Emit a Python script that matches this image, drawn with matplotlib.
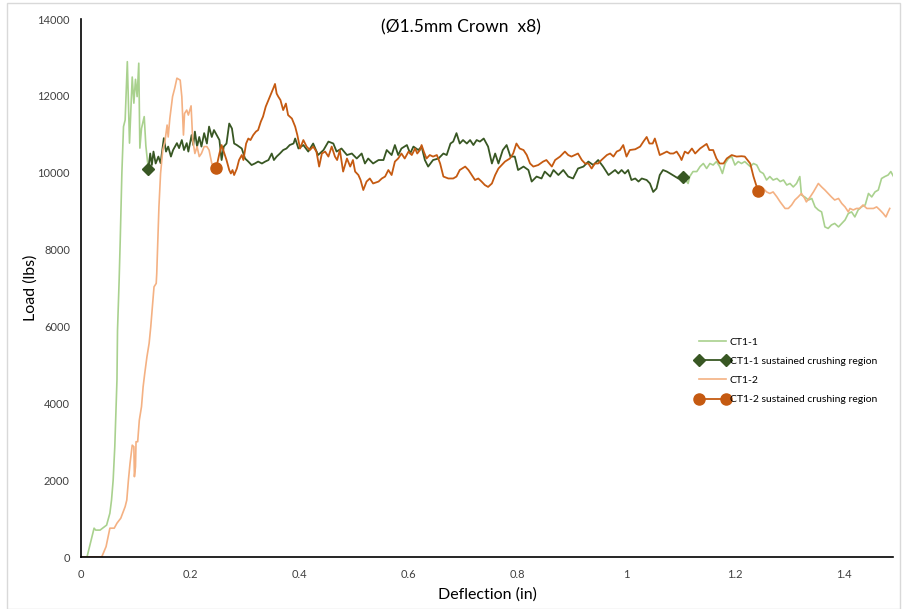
import numpy as np
import matplotlib
matplotlib.use('Agg')
import matplotlib.pyplot as plt
from matplotlib.patches import Rectangle
from matplotlib.ticker import FuncFormatter

plt.rcParams['font.family'] = ['Lato', 'DejaVu Sans']

# CT1-1 - initial loading up to the start of crushing
ct1_rise_x = [0, 0.011, 0.024, 0.027, 0.035, 0.047, 0.053, 0.056, 0.059, 0.062, 0.064, 0.066, 0.067,
              0.070, 0.072, 0.075, 0.078, 0.081, 0.085, 0.089, 0.094, 0.097, 0.100, 0.103, 0.106,
              0.108, 0.111, 0.116, 0.119, 0.1235]
ct1_rise_y = [0, 0, 750, 700, 700, 830, 1140, 1480, 2000, 2870, 3740, 4610, 5900,
              7210, 8250, 9990, 11200, 11370, 12890, 10770, 12490, 11810, 12430, 11980, 12850,
              10640, 11150, 11460, 10700, 10100]

# CT1-1 sustained crushing region
ct1_sus_x = [0.1235, 0.127, 0.130, 0.133, 0.137, 0.142, 0.146, 0.152, 0.156, 0.160, 0.165, 0.169,
             0.176, 0.180, 0.185, 0.189, 0.194, 0.197, 0.203, 0.206, 0.209, 0.213, 0.217, 0.221,
             0.226, 0.231, 0.235, 0.240, 0.244, 0.249, 0.254, 0.258, 0.262, 0.267, 0.272, 0.277,
             0.281, 0.286, 0.290, 0.295, 0.301, 0.307, 0.313, 0.319, 0.325, 0.332, 0.338, 0.344,
             0.350, 0.354, 0.359, 0.365, 0.371, 0.377, 0.383, 0.390, 0.393, 0.399, 0.408, 0.417,
             0.426, 0.435, 0.445, 0.454, 0.463, 0.469, 0.478, 0.488, 0.497, 0.506, 0.515, 0.521,
             0.527, 0.536, 0.546, 0.555, 0.561, 0.570, 0.576, 0.582, 0.588, 0.598, 0.604, 0.610,
             0.619, 0.625, 0.631, 0.637, 0.646, 0.656, 0.665, 0.671, 0.678, 0.683, 0.689, 0.695,
             0.701, 0.708, 0.714, 0.720, 0.726, 0.732, 0.739, 0.747, 0.754, 0.760, 0.766, 0.774,
             0.781, 0.788, 0.796, 0.802, 0.812, 0.821, 0.827, 0.836, 0.845, 0.851, 0.861, 0.867,
             0.876, 0.885, 0.894, 0.903, 0.912, 0.922, 0.931, 0.940, 0.949, 0.958, 0.968, 0.980,
             0.986, 0.992, 0.998, 1.004, 1.010, 1.017, 1.023, 1.029, 1.038, 1.044, 1.050, 1.056,
             1.062, 1.068, 1.075, 1.081, 1.090, 1.096, 1.105]
ct1_sus_y = [10100, 10500, 10200, 10550, 10240, 10420, 10250, 10900, 10550, 10680, 10420, 10590,
             10770, 10640, 10850, 10590, 10770, 10550, 10980, 10720, 11070, 10680, 10930, 10680,
             11030, 10760, 11200, 10930, 11110, 10980, 10850, 10330, 10680, 10760, 11280, 11150,
             10760, 10720, 10680, 10630, 10370, 10290, 10200, 10240, 10290, 10240, 10290, 10330,
             10500, 10330, 10420, 10500, 10590, 10630, 10720, 10760, 10890, 10630, 10720, 10550,
             10760, 10460, 10590, 10810, 10760, 10550, 10630, 10460, 10500, 10370, 10500, 10240,
             10370, 10240, 10330, 10330, 10590, 10460, 10720, 10460, 10630, 10720, 10500, 10680,
             10590, 10680, 10330, 10160, 10330, 10370, 10500, 10460, 10760, 10810, 11030, 10760,
             10850, 10760, 10850, 10720, 10850, 10810, 10890, 10680, 10240, 10500, 10240, 10590,
             10720, 10420, 10420, 10070, 10160, 10070, 9770, 9900, 9850, 10030, 9900, 10070,
             9940, 10070, 9900, 9850, 10110, 10160, 10290, 10200, 10330, 10160, 9940, 10070,
             9980, 10070, 9980, 10070, 9810, 9850, 9770, 9850, 9810, 9720, 9500, 9590,
             9940, 10070, 10030, 9980, 9900, 9850, 9900]

# CT1-1 after the crushing region
ct1_tail_x = [1.105, 1.114, 1.117, 1.123, 1.130, 1.136, 1.142, 1.148, 1.154, 1.160, 1.166, 1.172,
              1.177, 1.182, 1.188, 1.194, 1.200, 1.206, 1.212, 1.218, 1.228, 1.234, 1.240, 1.246,
              1.252, 1.258, 1.264, 1.270, 1.277, 1.283, 1.289, 1.295, 1.301, 1.307, 1.313, 1.319,
              1.322, 1.328, 1.335, 1.341, 1.347, 1.353, 1.359, 1.365, 1.371, 1.377, 1.383, 1.390,
              1.396, 1.402, 1.408, 1.414, 1.420, 1.426, 1.432, 1.439, 1.445, 1.451, 1.457, 1.463,
              1.469, 1.475, 1.481, 1.486, 1.491]
ct1_tail_y = [9900, 9720, 9900, 10030, 10030, 10160, 10240, 10110, 10240, 10200, 10290, 10160,
              9980, 10240, 10370, 10420, 10200, 10290, 10240, 10290, 10160, 10240, 10200, 10030,
              9980, 9810, 9900, 9810, 9850, 9770, 9810, 9680, 9720, 9630, 9720, 9900,
              9420, 9370, 9290, 9330, 9110, 9030, 8980, 8590, 8550, 8640, 8680, 8590,
              8680, 8770, 8940, 8980, 8850, 9030, 9110, 9160, 9460, 9370, 9500, 9550,
              9850, 9900, 9940, 10030, 9900]

# CT1-2 - initial loading
ct2_rise_x = [0, 0.038, 0.046, 0.053, 0.061, 0.066, 0.073, 0.081, 0.084, 0.087, 0.090, 0.094,
              0.097, 0.098, 0.100, 0.101, 0.104, 0.107, 0.111, 0.114, 0.117, 0.121, 0.125, 0.128,
              0.130, 0.133, 0.134, 0.138, 0.139, 0.143, 0.146, 0.150, 0.154, 0.158, 0.160, 0.163,
              0.168, 0.172, 0.176, 0.182, 0.185, 0.188, 0.190, 0.194, 0.197, 0.202, 0.205, 0.209,
              0.213, 0.217, 0.221, 0.226, 0.231, 0.235, 0.240, 0.244, 0.248]
ct2_rise_y = [0, 0, 270, 750, 750, 880, 1010, 1310, 1480, 2000, 2440, 2910,
              2870, 2090, 2350, 3000, 3000, 3560, 3910, 4430, 4780, 5210, 5560, 5990,
              6340, 6860, 7030, 7120, 7380, 9110, 9980, 10590, 10810, 11240, 10930, 11410,
              11980, 12200, 12460, 12410, 11980, 10980, 11540, 11630, 11500, 11740, 10850, 10500,
              10680, 10420, 10500, 10680, 10680, 10590, 10240, 10160, 10110]

# CT1-2 sustained crushing region
ct2_sus_x = [0.248, 0.254, 0.258, 0.262, 0.267, 0.272, 0.275, 0.278, 0.281, 0.286, 0.290, 0.295,
             0.298, 0.303, 0.307, 0.311, 0.316, 0.321, 0.325, 0.330, 0.334, 0.339, 0.344, 0.348,
             0.353, 0.356, 0.359, 0.362, 0.366, 0.371, 0.376, 0.380, 0.387, 0.393, 0.397, 0.402,
             0.408, 0.414, 0.420, 0.426, 0.432, 0.437, 0.442, 0.448, 0.454, 0.460, 0.466, 0.470,
             0.475, 0.481, 0.488, 0.494, 0.499, 0.503, 0.509, 0.513, 0.518, 0.524, 0.530, 0.536,
             0.546, 0.552, 0.558, 0.564, 0.570, 0.576, 0.582, 0.588, 0.594, 0.601, 0.607, 0.613,
             0.617, 0.622, 0.625, 0.629, 0.634, 0.640, 0.646, 0.653, 0.659, 0.665, 0.674, 0.683,
             0.689, 0.695, 0.705, 0.711, 0.717, 0.723, 0.729, 0.735, 0.741, 0.747, 0.754, 0.760,
             0.766, 0.772, 0.778, 0.787, 0.793, 0.799, 0.805, 0.812, 0.818, 0.824, 0.830, 0.839,
             0.848, 0.854, 0.864, 0.870, 0.879, 0.888, 0.894, 0.900, 0.906, 0.912, 0.919, 0.925,
             0.931, 0.937, 0.943, 0.949, 0.955, 0.965, 0.971, 0.977, 0.983, 0.989, 0.995, 1.001,
             1.007, 1.017, 1.026, 1.032, 1.038, 1.043, 1.049, 1.053, 1.062, 1.068, 1.075, 1.081,
             1.087, 1.093, 1.099, 1.102, 1.108, 1.114, 1.121, 1.127, 1.136, 1.148, 1.153, 1.160,
             1.166, 1.172, 1.179, 1.185, 1.194, 1.203, 1.212, 1.218, 1.228, 1.234, 1.240, 1.243]
ct2_sus_y = [10110, 10500, 10720, 10550, 10330, 10070, 9980, 10070, 9940, 10110, 10330, 10460,
             10330, 10760, 10890, 10850, 10980, 11070, 11110, 11330, 11460, 11720, 11890, 12020,
             12200, 12310, 12060, 11980, 11890, 11630, 11800, 11500, 11410, 11200, 10980, 10630,
             10850, 10680, 10590, 10680, 10550, 10160, 10500, 10550, 10420, 10680, 10420, 10330,
             10590, 10030, 10370, 10160, 10330, 10030, 9940, 9810, 9550, 9770, 9850, 9720,
             9770, 9850, 9900, 10070, 9940, 10290, 10370, 10500, 10370, 10550, 10460, 10630,
             10500, 10590, 10720, 10550, 10370, 10460, 10420, 10460, 10240, 9900, 9850, 9850,
             9900, 10070, 10160, 10070, 9940, 9810, 9850, 9770, 9680, 9630, 9720, 9940,
             10110, 10200, 10290, 10370, 10500, 10760, 10630, 10590, 10460, 10240, 10160, 10200,
             10290, 10330, 10160, 10330, 10420, 10550, 10460, 10420, 10460, 10500, 10330, 10240,
             10240, 10110, 10240, 10240, 10330, 10460, 10500, 10420, 10550, 10590, 10720, 10420,
             10590, 10610, 10680, 10810, 10930, 10760, 10760, 10890, 10460, 10500, 10550, 10500,
             10500, 10550, 10420, 10330, 10550, 10500, 10630, 10500, 10630, 10750, 10590, 10590,
             10370, 10240, 10240, 10370, 10460, 10420, 10430, 10420, 10240, 9900, 9630, 9520]

# CT1-2 after the crushing region
ct2_tail_x = [1.243, 1.252, 1.258, 1.264, 1.270, 1.277, 1.283, 1.292, 1.298, 1.304, 1.310, 1.316,
              1.322, 1.328, 1.331, 1.338, 1.344, 1.353, 1.359, 1.365, 1.371, 1.377, 1.383, 1.390,
              1.396, 1.402, 1.408, 1.411, 1.417, 1.423, 1.429, 1.435, 1.442, 1.448, 1.454, 1.460,
              1.466, 1.472, 1.477, 1.481, 1.484]
ct2_tail_y = [9520, 9590, 9500, 9460, 9500, 9370, 9240, 9070, 9070, 9160, 9290, 9370,
              9460, 9330, 9240, 9370, 9500, 9720, 9630, 9550, 9460, 9370, 9290, 9330,
              9200, 9110, 8980, 9070, 9030, 9070, 9070, 9160, 9070, 9070, 9070, 9110,
              9030, 8940, 8850, 8980, 9070]

x_ticks = [0, 0.2, 0.4, 0.6, 0.8, 1.0, 1.2, 1.4]
y_ticks = [0, 2000, 4000, 6000, 8000, 10000, 12000, 14000]

light_green = '#A9D18E'
dark_green = '#385723'
light_orange = '#F4B183'
dark_orange = '#C55A11'

fig = plt.figure(figsize=(9.02, 6.09), dpi=100)
ax = fig.add_axes([81 / 902, 1 - 557 / 609, (893 - 81) / 902, (557 - 19) / 609])

ax.plot(ct1_rise_x, ct1_rise_y, color=light_green, lw=1.2, label='CT1-1')
ax.plot(ct1_tail_x, ct1_tail_y, color=light_green, lw=1.2)
ax.plot(ct1_sus_x, ct1_sus_y, color=dark_green, lw=1.3, marker='D', markersize=6,
        markevery=[0, len(ct1_sus_x) - 1], label='CT1-1 sustained crushing region')
ax.plot(ct2_rise_x, ct2_rise_y, color=light_orange, lw=1.2, label='CT1-2')
ax.plot(ct2_tail_x, ct2_tail_y, color=light_orange, lw=1.2)
ax.plot(ct2_sus_x, ct2_sus_y, color=dark_orange, lw=1.3, marker='o', markersize=8,
        markevery=[0, len(ct2_sus_x) - 1], label='CT1-2 sustained crushing region')

ax.set_xlim(0, 1.49)
ax.set_ylim(0, 14000)
ax.set_xticks(x_ticks)
ax.set_yticks(y_ticks)
ax.xaxis.set_major_formatter(FuncFormatter(lambda v, p: f'{v:g}'))
ax.tick_params(axis='both', length=0, labelsize=8, colors='#404040')
ax.tick_params(axis='x', pad=9)
ax.tick_params(axis='y', pad=8)

for pos in ('top', 'right'):
    ax.spines[pos].set_visible(False)
for pos in ('left', 'bottom'):
    ax.spines[pos].set_color('black')
    ax.spines[pos].set_linewidth(1.2)

ax.set_xlabel('Deflection (in)', fontsize=11.5, labelpad=5)
ax.set_ylabel('Load (lbs)', fontsize=11.5, labelpad=0)
ax.text(0.468, 0.985, '(Ø1.5mm Crown  x8)', transform=ax.transAxes, ha='center', va='center',
        fontsize=12.5)

leg = ax.legend(loc='upper left', bbox_to_anchor=(686 / 902, 1 - 328 / 609),
                bbox_transform=fig.transFigure, frameon=False, fontsize=7.5, numpoints=2,
                handlelength=3.2, handletextpad=0.1, labelspacing=0.95)

# light grey border round the whole picture
fig.patches.append(Rectangle((7 / 902, 0), 893 / 902, 606 / 609, transform=fig.transFigure,
                             fill=False, edgecolor='#D9D9D9', lw=1))

plt.savefig('out.png', dpi=100)
